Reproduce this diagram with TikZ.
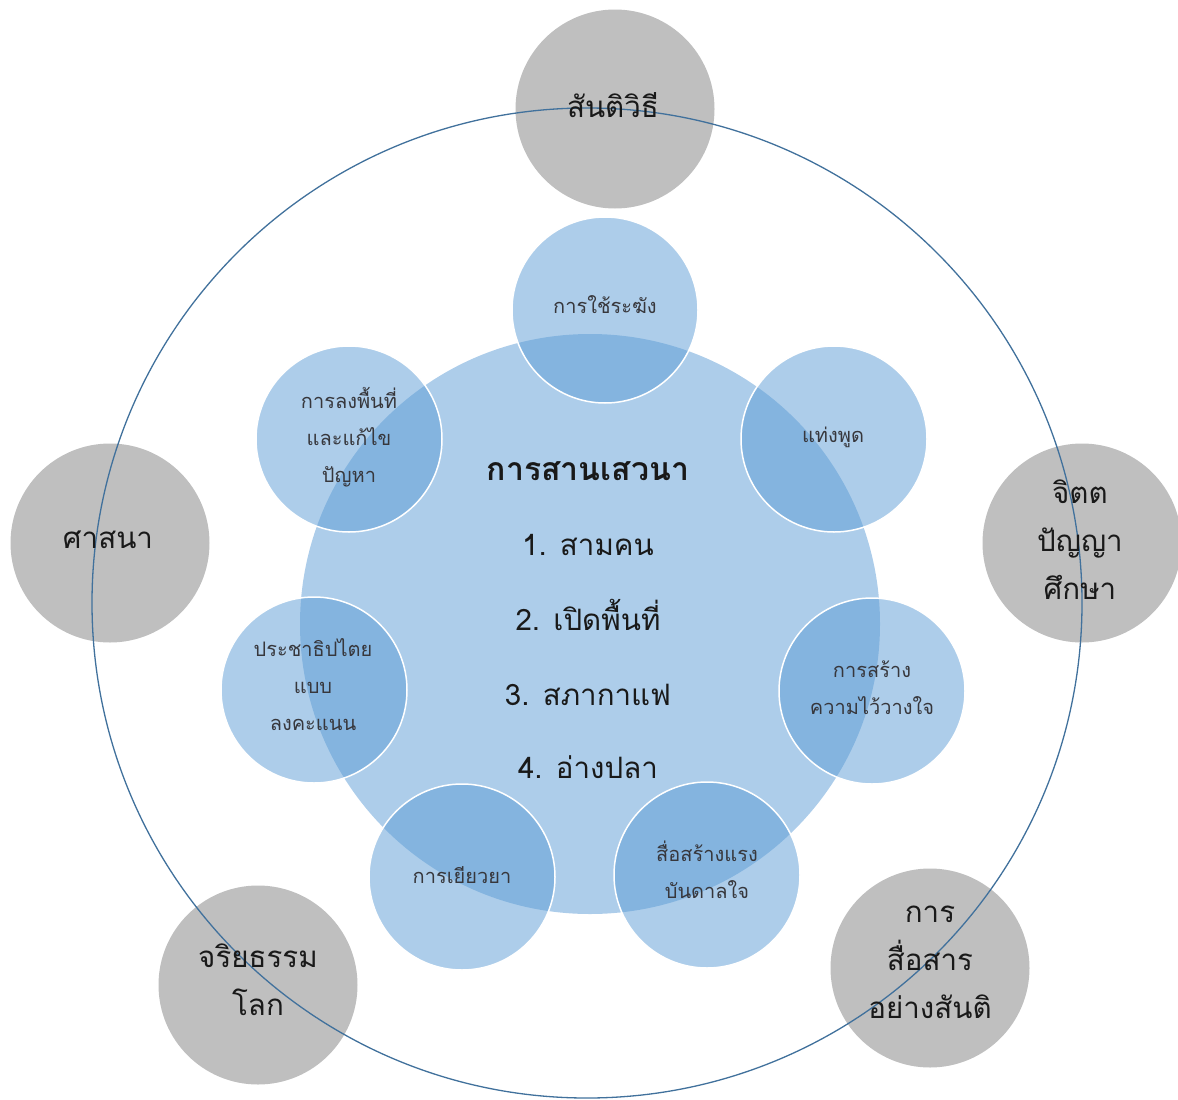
\documentclass[tikz,border=0pt]{standalone}
\usepackage{fontspec}
\newfontfamily\thai[Script=Thai]{Loma}
\definecolor{bluefill}{RGB}{91,155,213}
\definecolor{grayfill}{RGB}{191,191,191}
\definecolor{ringblue}{RGB}{65,113,156}
\definecolor{txtdark}{RGB}{25,25,25}
\definecolor{txtsoft}{RGB}{55,55,60}
\begin{document}
\begin{tikzpicture}[x=1pt,y=-1pt,
  bluec/.style={circle, draw=white, line width=1.5pt, fill=bluefill, fill opacity=0.5, minimum size=186pt, inner sep=0pt},
  hub/.style={circle, fill=bluefill, fill opacity=0.5, minimum size=580pt, inner sep=0pt},
  grayc/.style={circle, fill=grayfill, minimum size=199pt, inner sep=0pt},
  ring/.style={circle, draw=ringblue, line width=1.3pt, minimum size=990pt, inner sep=0pt},
  graytxt/.style={font=\thai\fontsize{29.5}{48}\selectfont, align=center, text=txtdark},
  smalltxt/.style={font=\thai\fontsize{20}{37}\selectfont, align=center, text=txtsoft},
  titletxt/.style={font=\thai\bfseries\fontsize{32}{40}\selectfont, text=txtdark, anchor=base},
  itemtxt/.style={font=\thai\fontsize{29.5}{40}\selectfont, text=txtdark, anchor=base},
]
\useasboundingbox (0,0) rectangle (1178,1100);
% outer gray circles
\node[grayc] (g1) at (615,109) {};
\node[grayc] (g2) at (1082,543) {};
\node[grayc] (g3) at (930,968) {};
\node[grayc] (g4) at (258,985) {};
\node[grayc] (g5) at (110,543) {};
% ring
\node[ring] (ring) at (587,603) {};
% hub and satellites
\node[hub] (hub) at (590,624) {};
\node[bluec] (b1) at (605,310) {};
\node[bluec] (b2) at (834,439) {};
\node[bluec] (b3) at (872,691) {};
\node[bluec] (b4) at (707,875) {};
\node[bluec] (b5) at (462,877) {};
\node[bluec] (b6) at (314,690) {};
\node[bluec] (b7) at (349,439) {};
% gray texts
\node[graytxt] (tg1) at (613,105) {สันติวิธี};
\node[graytxt] (tg2) at (1080,540) {จิตต\\ปัญญา\\ศึกษา};
\node[graytxt] (tg3) at (930,962) {การ\\สื่อสาร\\อย่างสันติ};
\node[graytxt] (tg4) at (258,980) {จริยธรรม\\โลก};
\node[graytxt] (tg5) at (108,540) {ศาสนา};
% satellite texts
\node[smalltxt] (tb1) at (605,305) {การใช้ระฆัง};
\node[smalltxt] (tb2) at (833,437) {แท่งพูด};
\node[smalltxt] (tb3) at (872,688) {การสร้าง\\ความไว้วางใจ};
\node[smalltxt] (tb4) at (707,870) {สื่อสร้างแรง\\บันดาลใจ};
\node[smalltxt] (tb5) at (462,875) {การเยียวยา};
\node[smalltxt] (tb6) at (313,685) {ประชาธิปไตย\\แบบ\\ลงคะแนน};
\node[smalltxt] (tb7) at (349,437) {การลงพื้นที่\\และแก้ไข\\ปัญหา};
% hub texts
\node[titletxt] (t0) at (588,480) {การสานเสวนา};
\node[itemtxt] (t1) at (588,555) {1. สามคน};
\node[itemtxt] (t2) at (588,630) {2. เปิดพื้นที่};
\node[itemtxt] (t3) at (588,705) {3. สภากาแฟ};
\node[itemtxt] (t4) at (588,778) {4. อ่างปลา};
\end{tikzpicture}
\end{document}
